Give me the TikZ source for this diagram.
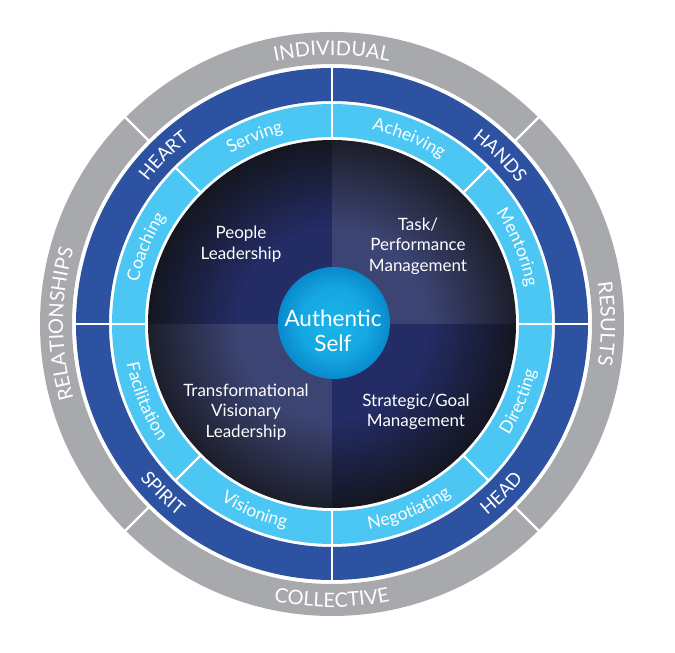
\documentclass[tikz,border=0pt]{standalone}
\usepackage{fontspec}
\setmainfont{Lato}
\usetikzlibrary{decorations.text,calc}
\definecolor{ringgray}{RGB}{167,169,172}
\definecolor{ringblue}{RGB}{46,82,162}
\definecolor{ringlight}{RGB}{76,199,244}
\definecolor{qnavy}{RGB}{35,44,100}
\definecolor{qnavyedge}{RGB}{20,22,32}
\definecolor{qslate}{RGB}{60,68,115}
\definecolor{qslateedge}{RGB}{28,30,42}
\definecolor{selfin}{RGB}{26,180,234}
\definecolor{selfout}{RGB}{8,138,204}
\pgfdeclareradialshading{navyshade}{\pgfpointorigin}{color(0bp)=(qnavy); color(13bp)=(qnavy); color(25bp)=(qnavyedge); color(50bp)=(qnavyedge)}
\pgfdeclareradialshading{slateshade}{\pgfpointorigin}{color(0bp)=(qslate); color(13bp)=(qslate); color(25bp)=(qslateedge); color(50bp)=(qslateedge)}
\pgfdeclareradialshading{selfshade}{\pgfpointorigin}{color(0bp)=(selfin); color(15bp)=(selfin!70!selfout); color(25bp)=(selfout); color(50bp)=(selfout)}
\newcommand\arclabel[5]{%
  \path[decorate, decoration={text along path, text align=center, text color=white, text={|#4|#5}}]
    ($(C)+(#2:#1)$) arc[start angle=#2, end angle=#3, radius=#1];}
\newcommand\grayfont{\fontsize{20}{20}\selectfont}
\newcommand\bluefont{\fontsize{18.5}{18.5}\selectfont}
\newcommand\lightfont{\fontsize{17.5}{17.5}\selectfont}
\tikzset{
  sep/.style={draw=white, line width=2.2pt},
  inner/.style={text=white, align=center, font=\fontsize{17}{20.5}\selectfont},
  selfc/.style={circle, minimum size=112pt, inner sep=0pt, shading=selfshade},
  selftext/.style={text=white, align=center, font=\fontsize{22.5}{25.5}\selectfont}
}
\begin{document}
\begin{tikzpicture}[x=1pt,y=1pt]
\useasboundingbox (0,0) rectangle (675,653);
\coordinate (C) at (332,329);
% rings
\fill[ringgray, even odd rule] (C) circle (292) (C) circle (260);
\fill[ringblue, even odd rule] (C) circle (256) (C) circle (223);
\fill[ringlight, even odd rule] (C) circle (220) (C) circle (187);
% center quadrants
\begin{scope}
  \clip (C) -- ++(0:190) arc[start angle=0, end angle=90, radius=190] -- cycle;
  \shade[shading=slateshade] (C) circle (184);
\end{scope}
\begin{scope}
  \clip (C) -- ++(90:190) arc[start angle=90, end angle=180, radius=190] -- cycle;
  \shade[shading=navyshade] (C) circle (184);
\end{scope}
\begin{scope}
  \clip (C) -- ++(180:190) arc[start angle=180, end angle=270, radius=190] -- cycle;
  \shade[shading=slateshade] (C) circle (184);
\end{scope}
\begin{scope}
  \clip (C) -- ++(270:190) arc[start angle=270, end angle=360, radius=190] -- cycle;
  \shade[shading=navyshade] (C) circle (184);
\end{scope}
% separators
\foreach \a in {45,135,225,315} \draw[sep] (C) ++(\a:258) -- ++(\a:36);
\foreach \a in {0,90,180,270} \draw[sep] (C) ++(\a:221) -- ++(\a:37);
\foreach \a in {0,45,...,315} \draw[sep] (C) ++(\a:185) -- ++(\a:37);
% gray labels
\arclabel{268.8}{150}{30}{\grayfont}{INDIVIDUAL}
\arclabel{268.8}{240}{120}{\grayfont}{RELATIONSHIPS}
\arclabel{268.8}{60}{-60}{\grayfont}{RESULTS}
\arclabel{283.2}{210}{330}{\grayfont}{COLLECTIVE}
% dark blue labels
\arclabel{232.8}{175}{95}{\bluefont}{HEART}
\arclabel{232.8}{85}{5}{\bluefont}{HANDS}
\arclabel{246.2}{185}{265}{\bluefont}{SPIRIT}
\arclabel{246.2}{275}{355}{\bluefont}{HEAD}
% light blue labels
\arclabel{198}{152.5}{72.5}{\lightfont}{Serving}
\arclabel{198}{107.5}{27.5}{\lightfont}{Acheiving}
\arclabel{198}{62.5}{-17.5}{\lightfont}{Mentoring}
\arclabel{198}{197.5}{117.5}{\lightfont}{Coaching}
\arclabel{209}{297.5}{377.5}{\lightfont}{Directing}
\arclabel{209}{252.5}{332.5}{\lightfont}{Negotiating}
\arclabel{209}{207.5}{287.5}{\lightfont}{Visioning}
\arclabel{209}{162.5}{242.5}{\lightfont}{Facilitation}
% quadrant texts
\node[inner] (people) at (241,409) {People\\Leadership};
\node[inner] (task) at (418,407) {Task/\\Performance\\Management};
\node[inner] (trans) at (246,241) {Transformational\\Visionary\\Leadership};
\node[inner] (strat) at (416,241) {Strategic/Goal\\Management};
% authentic self
\node[selfc] (self) at (334,330) {};
\node[selftext] (selflabel) at (333,322) {Authentic\\Self};
\end{tikzpicture}
\end{document}
